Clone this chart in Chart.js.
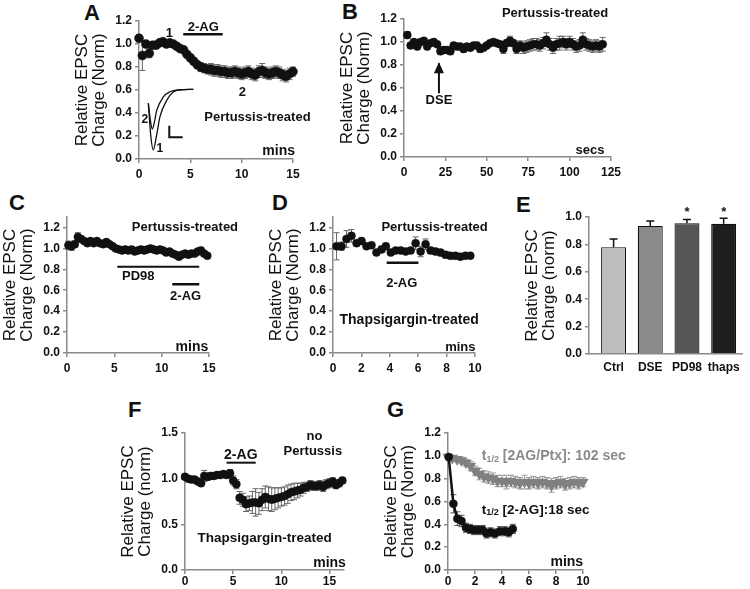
<!DOCTYPE html>
<html>
<head>
<meta charset="utf-8">
<script src="https://cdn.jsdelivr.net/npm/chart.js@4"></script>
<style>
    body { margin: 0; width: 750px; height: 589px; position: relative; overflow: hidden; background: #fff;
           font-family: 'Liberation Sans', Arial, Helvetica, sans-serif; }
    canvas { position: absolute; }
    .letter { position: absolute; font-weight: bold; font-size: 22px; line-height: 1; color: #111; }
</style>
</head>
<body>
<div class="letter" style="left:84px;top:2px">A</div>
<div class="letter" style="left:342px;top:1px">B</div>
<div class="letter" style="left:9px;top:192px">C</div>
<div class="letter" style="left:272px;top:192px">D</div>
<div class="letter" style="left:516px;top:194px">E</div>
<div class="letter" style="left:128px;top:399px">F</div>
<div class="letter" style="left:387px;top:399px">G</div>

<canvas id="chartA" width="246" height="174" style="left:73px;top:9px"></canvas>
<canvas id="chartB" width="287" height="178" style="left:338px;top:3px"></canvas>
<canvas id="chartC" width="238" height="172" style="left:1px;top:205px"></canvas>
<canvas id="chartD" width="222" height="172" style="left:267px;top:205px"></canvas>
<canvas id="chartE" width="225" height="173" style="left:523px;top:205px"></canvas>
<canvas id="chartF" width="239" height="173" style="left:119px;top:421px"></canvas>
<canvas id="chartG" width="251" height="173" style="left:382px;top:421px"></canvas>

<script>
// ---- data ----
var aTime = [0, 0.33, 0.67, 1, 1.33, 1.67, 2, 2.33, 2.67, 3, 3.33, 3.67, 4, 4.33, 4.67, 5, 5.33, 5.67, 6, 6.33, 6.67, 7, 7.33, 7.67,
    8, 8.33, 8.67, 9, 9.33, 9.67, 10, 10.33, 10.67, 11, 11.33, 11.67, 12, 12.33, 12.67, 13, 13.33, 13.67, 14, 14.33, 14.67, 15];
var aCharge = [1.05, 0.90, 1.00, 0.92, 0.99, 0.99, 1.01, 1.02, 1.00, 1.01, 1.00, 0.98, 0.96, 0.95, 0.91, 0.88, 0.85, 0.82, 0.80, 0.79,
    0.78, 0.78, 0.77, 0.77, 0.76, 0.76, 0.75, 0.75, 0.76, 0.75, 0.74, 0.75, 0.76, 0.74, 0.73, 0.76, 0.77, 0.75, 0.74, 0.75,
    0.76, 0.75, 0.73, 0.72, 0.74, 0.76];
var aSem = [0.03, 0.13, 0.03, 0.04, 0.03, 0.03, 0.02, 0.02, 0.02, 0.02, 0.02, 0.02, 0.02, 0.02, 0.02, 0.03, 0.03, 0.03, 0.04, 0.04,
    0.04, 0.05, 0.05, 0.05, 0.05, 0.05, 0.05, 0.05, 0.05, 0.05, 0.05, 0.05, 0.05, 0.05, 0.05, 0.05, 0.06, 0.05, 0.05, 0.05,
    0.05, 0.05, 0.05, 0.05, 0.05, 0.04];
// example EPSC traces drawn in the inset of panel A
var aTrace1Time = [0.91, 1.15, 1.39, 1.7, 2.05, 2.7, 3.3, 4.0, 5.29];
var aTrace1Amp = [0.485, 0.2, 0.078, 0.2, 0.37, 0.51, 0.58, 0.602, 0.606];
var aTrace2Time = [0.91, 1.1, 1.3, 1.5, 1.72, 2.37, 3.0, 4.0, 5.29];
var aTrace2Amp = [0.485, 0.34, 0.26, 0.32, 0.42, 0.54, 0.585, 0.602, 0.606];
var aScaleBarTime = [2.95, 2.95, 4.25];
var aScaleBarAmp = [0.29, 0.19, 0.19];

var bTime = [2, 4, 6, 8, 10, 12, 14, 16, 18, 20, 22, 24, 26, 28, 30, 32, 34, 36, 38, 40, 42, 44, 46, 48, 50, 52, 54, 56, 58, 60,
    62, 64, 66, 68, 70, 72, 74, 76, 78, 80, 82, 84, 86, 88, 90, 92, 94, 96, 98, 100, 102, 104, 106, 108, 110, 112, 114, 116, 118, 120];
var bCharge = [1.06, 0.97, 1.00, 0.96, 1.00, 1.01, 0.96, 0.99, 1.00, 0.98, 0.92, 0.93, 0.93, 0.92, 0.97, 0.96, 0.96, 0.94, 0.96, 0.95,
    0.97, 0.97, 0.94, 0.95, 0.97, 0.99, 1.00, 0.99, 0.98, 0.94, 0.99, 1.01, 0.99, 0.94, 0.97, 0.95, 0.96, 0.97, 0.98, 0.98,
    0.97, 0.99, 1.02, 0.98, 0.95, 0.98, 0.99, 1.00, 0.98, 1.00, 0.98, 0.96, 0.97, 1.02, 0.98, 0.97, 0.96, 0.97, 0.96, 0.98];
var bSem = [0.03, 0.02, 0.02, 0.02, 0.02, 0.02, 0.02, 0.02, 0.02, 0.02, 0.03, 0.03, 0.03, 0.03, 0.02, 0.02, 0.02, 0.03, 0.02, 0.02,
    0.02, 0.02, 0.03, 0.02, 0.02, 0.02, 0.02, 0.02, 0.02, 0.04, 0.03, 0.04, 0.03, 0.04, 0.04, 0.05, 0.05, 0.05, 0.05, 0.05,
    0.05, 0.05, 0.06, 0.05, 0.05, 0.05, 0.06, 0.05, 0.05, 0.05, 0.05, 0.05, 0.05, 0.06, 0.05, 0.05, 0.05, 0.05, 0.05, 0.06];

var cTime = [0.15, 0.48, 0.82, 1.15, 1.48, 1.82, 2.15, 2.48, 2.82, 3.15, 3.48, 3.82, 4.15, 4.48, 4.82, 5.15, 5.48, 5.82, 6.15, 6.48,
    6.82, 7.15, 7.48, 7.82, 8.15, 8.48, 8.82, 9.15, 9.48, 9.82, 10.15, 10.48, 10.82, 11.15, 11.48, 11.82, 12.15, 12.48, 12.82, 13.15,
    13.48, 13.82, 14.15, 14.48, 14.82];
var cCharge = [1.03, 1.02, 1.04, 1.11, 1.09, 1.07, 1.05, 1.07, 1.05, 1.07, 1.05, 1.04, 1.06, 1.04, 1.02, 1.00, 0.99, 0.98, 0.99, 0.98,
    0.99, 0.97, 0.98, 0.99, 0.98, 0.99, 1.00, 0.99, 0.98, 0.99, 0.98, 0.96, 0.97, 0.95, 0.94, 0.92, 0.94, 0.95, 0.94, 0.95,
    0.95, 0.97, 0.98, 0.95, 0.93];
var cSem = [0.04, 0.04, 0.03, 0.04, 0.03, 0.02, 0.02, 0.02, 0.02, 0.02, 0.02, 0.02, 0.02, 0.02, 0.02, 0.02, 0.02, 0.02, 0.02, 0.02,
    0.02, 0.02, 0.02, 0.02, 0.02, 0.02, 0.02, 0.02, 0.02, 0.02, 0.02, 0.02, 0.02, 0.02, 0.02, 0.02, 0.02, 0.02, 0.02, 0.02,
    0.02, 0.03, 0.03, 0.02, 0.02];

var dTime = [0.25, 0.6, 0.95, 1.3, 1.66, 2.01, 2.36, 2.71, 3.06, 3.42, 3.72, 4.07, 4.42, 4.77, 5.12, 5.47, 5.82, 6.17, 6.52, 6.87,
    7.22, 7.57, 7.92, 8.27, 8.62, 8.97, 9.32, 9.67];
var dCharge = [1.02, 1.02, 1.09, 1.12, 1.05, 1.07, 1.02, 1.03, 0.96, 0.99, 1.02, 0.96, 0.98, 0.98, 0.97, 0.98, 1.05, 0.97, 1.04, 0.98,
    0.97, 0.96, 0.94, 0.93, 0.93, 0.92, 0.93, 0.93];
var dSem = [0.13, 0.04, 0.08, 0.06, 0.03, 0.03, 0.02, 0.02, 0.02, 0.03, 0.03, 0.02, 0.02, 0.02, 0.02, 0.02, 0.06, 0.05, 0.05, 0.03,
    0.03, 0.03, 0.03, 0.03, 0.03, 0.02, 0.02, 0.02];

var eName = ['Ctrl', 'DSE', 'PD98', 'thaps'];
var eMean = [0.78, 0.935, 0.955, 0.95];
var eSem = [0.06, 0.035, 0.027, 0.04];
var eColors = ['#bdbdbd', '#8a8a8a', '#565656', '#1e1e1e'];

var fTime = [0, 0.33, 0.67, 1, 1.33, 1.67, 2, 2.33, 2.67, 3, 3.33, 3.67, 4, 4.33, 4.67, 5, 5.33, 5.67, 6, 6.33, 6.67, 7, 7.33, 7.67,
    8, 8.33, 8.67, 9, 9.33, 9.67, 10, 10.33, 10.67, 11, 11.33, 11.67, 12, 12.33, 12.67, 13, 13.33, 13.67, 14, 14.33, 14.67, 15,
    15.33, 15.67, 16, 16.33];
var fCharge = [1.02, 1.00, 0.99, 0.99, 0.97, 0.95, 1.03, 1.02, 1.03, 1.03, 1.04, 1.04, 1.05, 1.04, 1.06, 0.98, 0.94, 0.79, 0.77, 0.72,
    0.73, 0.74, 0.74, 0.73, 0.77, 0.80, 0.78, 0.77, 0.78, 0.79, 0.80, 0.81, 0.83, 0.85, 0.86, 0.87, 0.88, 0.90, 0.91, 0.93,
    0.92, 0.92, 0.93, 0.91, 0.94, 0.95, 0.97, 0.93, 0.95, 0.98];
var fSem = [0.03, 0.03, 0.02, 0.02, 0.02, 0.03, 0.06, 0.04, 0.03, 0.03, 0.03, 0.03, 0.03, 0.03, 0.04, 0.05, 0.05, 0.07, 0.07, 0.08,
    0.08, 0.12, 0.15, 0.12, 0.12, 0.12, 0.13, 0.13, 0.12, 0.11, 0.10, 0.10, 0.10, 0.09, 0.09, 0.08, 0.07, 0.06, 0.05, 0.05,
    0.05, 0.05, 0.05, 0.05, 0.05, 0.05, 0.04, 0.04, 0.04, 0.03];

var gAgTime = [0.05, 0.4, 0.69, 1.0, 1.33, 1.63, 1.93, 2.25, 2.57, 2.85, 3.15, 3.48, 3.85, 4.2, 4.5, 4.8];
var gAgCharge = [0.99, 0.58, 0.45, 0.43, 0.37, 0.36, 0.35, 0.35, 0.35, 0.32, 0.33, 0.32, 0.34, 0.34, 0.33, 0.36];
var gAgSem = [0.02, 0.08, 0.06, 0.05, 0.04, 0.04, 0.04, 0.04, 0.04, 0.04, 0.04, 0.04, 0.04, 0.04, 0.04, 0.04];
var gPtxTime = [0, 0.33, 0.67, 1, 1.33, 1.67, 2, 2.33, 2.67, 3, 3.33, 3.67, 4, 4.33, 4.67, 5, 5.33, 5.67, 6, 6.33, 6.67, 7,
    7.33, 7.67, 8, 8.33, 8.67, 9, 9.33, 9.67, 10];
var gPtxCharge = [0.99, 0.98, 0.97, 0.96, 0.94, 0.91, 0.87, 0.84, 0.82, 0.81, 0.80, 0.78, 0.78, 0.77, 0.78, 0.77, 0.76, 0.77, 0.76,
    0.77, 0.76, 0.77, 0.76, 0.74, 0.76, 0.77, 0.75, 0.76, 0.77, 0.76, 0.77];
var gPtxSem = [0.01, 0.02, 0.02, 0.03, 0.03, 0.04, 0.04, 0.05, 0.05, 0.05, 0.05, 0.05, 0.05, 0.06, 0.05, 0.05, 0.05, 0.06, 0.05,
    0.05, 0.05, 0.05, 0.05, 0.06, 0.05, 0.05, 0.05, 0.05, 0.05, 0.05, 0.04];

// ---- shared look ----
Chart.defaults.font.family = "'Liberation Sans', Arial, Helvetica, sans-serif";
Chart.defaults.color = '#111';
Chart.defaults.animation = false;

var axisGray = '#8a8a8a';
var tickFont = { size: 12, weight: 'bold' };
var FONT = "'Liberation Sans', Arial, sans-serif";

function pts(xs, ys) {
    return xs.map(function (x, i) { return { x: x, y: ys[i] }; });
}

// SEM bars, drawn under the markers
Chart.register({
    id: 'errorBars',
    beforeDatasetsDraw: function (chart) {
        var ctx = chart.ctx;
        chart.data.datasets.forEach(function (ds, i) {
            if (!ds.errors) return;
            var meta = chart.getDatasetMeta(i);
            var ys = chart.scales[meta.yAxisID];
            ctx.save();
            ctx.strokeStyle = ds.errorColor || '#666';
            ctx.lineWidth = ds.errorWidth || 1;
            var cap = ds.errorCap || 3;
            meta.data.forEach(function (el, j) {
                var e = ds.errors[j];
                if (e === undefined) return;
                var v = ds.data[j].y;
                var top = ys.getPixelForValue(v + e);
                var bot = ys.getPixelForValue(ds.errorUpOnly ? v : v - e);
                ctx.beginPath();
                ctx.moveTo(el.x, top); ctx.lineTo(el.x, bot);
                ctx.moveTo(el.x - cap, top); ctx.lineTo(el.x + cap, top);
                if (!ds.errorUpOnly) { ctx.moveTo(el.x - cap, bot); ctx.lineTo(el.x + cap, bot); }
                ctx.stroke();
            });
            ctx.restore();
        });
    }
});

// labels, drug bars and arrows placed in data units
function notes(texts, lines) {
    return {
        id: 'notes',
        afterDraw: function (chart) {
            var ctx = chart.ctx, xs = chart.scales.x, ys = chart.scales.y;
            ctx.save();
            (lines || []).forEach(function (l) {
                var x1 = xs.getPixelForValue(l.x1), y1 = ys.getPixelForValue(l.y1);
                var x2 = xs.getPixelForValue(l.x2), y2 = ys.getPixelForValue(l.y2);
                ctx.strokeStyle = '#111';
                ctx.fillStyle = '#111';
                ctx.lineWidth = l.w || 2;
                ctx.beginPath(); ctx.moveTo(x1, y1); ctx.lineTo(x2, y2); ctx.stroke();
                if (l.arrow) {
                    ctx.beginPath();
                    ctx.moveTo(x2, y2 - 1);
                    ctx.lineTo(x2 - 5, y2 + 10);
                    ctx.lineTo(x2 + 5, y2 + 10);
                    ctx.closePath(); ctx.fill();
                }
            });
            (texts || []).forEach(function (t) {
                var px = xs.getPixelForValue(t.x), py = ys.getPixelForValue(t.y);
                ctx.fillStyle = t.color || '#111';
                ctx.textBaseline = 'middle';
                if (t.parts) {
                    ctx.textAlign = 'left';
                    t.parts.forEach(function (p) {
                        ctx.font = 'bold ' + p.size + 'px ' + FONT;
                        ctx.fillText(p.text, px, py + (p.dy || 0));
                        px += ctx.measureText(p.text).width;
                    });
                } else {
                    ctx.textAlign = t.align || 'center';
                    ctx.font = (t.weight || 'bold') + ' ' + (t.size || 13) + 'px ' + FONT;
                    ctx.fillText(t.text, px, py);
                }
            });
            ctx.restore();
        }
    };
}

function xAxis(min, max, step, pad) {
    return {
        type: 'linear', min: min, max: max,
        border: { color: axisGray, width: 1.5 },
        grid: { drawOnChartArea: false, color: axisGray, lineWidth: 1.5, tickLength: 4 },
        ticks: { stepSize: step, includeBounds: false, padding: pad, font: tickFont, color: '#111', maxRotation: 0, autoSkip: false },
        afterFit: function (s) { s.height = 24; }
    };
}

function yAxis(min, max, step, title) {
    return {
        type: 'linear', min: min, max: max,
        border: { color: axisGray, width: 1.5 },
        grid: { drawOnChartArea: false, color: axisGray, lineWidth: 1.5, tickLength: 4 },
        ticks: {
            stepSize: step, includeBounds: false, padding: 3, font: tickFont, color: '#111',
            callback: function (v) { return v.toFixed(1); }
        },
        title: { display: true, text: title, color: '#111', padding: 0, font: { size: 17, lineHeight: 1.05 } },
        afterFit: function (s) { s.width = 66; }
    };
}

function options(x, y, padTop, padRight) {
    return {
        responsive: false,
        animation: false,
        layout: { padding: { top: padTop, right: padRight, left: 0, bottom: 0 } },
        scales: { x: x, y: y },
        plugins: { legend: { display: false }, tooltip: { enabled: false } }
    };
}

function dots(xs, ys, errs, r) {
    return {
        data: pts(xs, ys), errors: errs, errorColor: '#666',
        pointRadius: r, pointHoverRadius: r, pointBackgroundColor: '#111', pointBorderColor: '#111', pointBorderWidth: 0.5,
        showLine: false, clip: false
    };
}

function trace(xs, ys, width) {
    return {
        data: pts(xs, ys), showLine: true, pointRadius: 0, borderColor: '#111', borderWidth: width,
        cubicInterpolationMode: 'monotone', clip: false
    };
}

var normTitle = ['Relative EPSC', 'Charge (Norm)'];
var normTitleLower = ['Relative EPSC', 'Charge (norm)'];

// ---- A ----
new Chart(document.getElementById('chartA'), {
    type: 'scatter',
    data: {
        datasets: [
            dots(aTime, aCharge, aSem, 4.5),
            trace(aTrace1Time, aTrace1Amp, 1.3),
            trace(aTrace2Time, aTrace2Amp, 1.3),
            { data: pts(aScaleBarTime, aScaleBarAmp), showLine: true, pointRadius: 0, borderColor: '#111', borderWidth: 2, tension: 0 }
        ]
    },
    options: options(xAxis(0, 15, 5, 4), yAxis(0, 1.2, 0.2, normTitle), 12, 26),
    plugins: [notes([
        { x: 2.95, y: 1.093, text: '1' },
        { x: 6.26, y: 1.145, text: '2-AG' },
        { x: 10.06, y: 0.577, text: '2' },
        { x: 0.58, y: 0.34, text: '2', size: 12 },
        { x: 2.04, y: 0.093, text: '1', size: 12 },
        { x: 11.54, y: 0.363, text: 'Pertussis-treated' },
        { x: 13.6, y: 0.072, text: 'mins', size: 14 }
    ], [
        { x1: 4.31, y1: 1.084, x2: 8.15, y2: 1.084, w: 2.5 }
    ])]
});

// ---- B ----
new Chart(document.getElementById('chartB'), {
    type: 'scatter',
    data: { datasets: [dots(bTime, bCharge, bSem, 4)] },
    options: options(xAxis(0, 125, 25, 4), yAxis(0, 1.2, 0.2, normTitle), 16, 14),
    plugins: [notes([
        { x: 91.2, y: 1.25, text: 'Pertussis-treated' },
        { x: 21.1, y: 0.49, text: 'DSE' },
        { x: 112.3, y: 0.061, text: 'secs' }
    ], [
        { x1: 21.1, y1: 0.554, x2: 21.1, y2: 0.815, w: 2, arrow: true }
    ])]
});

// ---- C ----
new Chart(document.getElementById('chartC'), {
    type: 'scatter',
    data: { datasets: [dots(cTime, cCharge, cSem, 4)] },
    options: options(xAxis(0, 15, 5, 4), yAxis(0, 1.3, 0.2, normTitle), 12, 30),
    plugins: [notes([
        { x: 12.46, y: 1.2, text: 'Pertussis-treated' },
        { x: 7.53, y: 0.73, text: 'PD98' },
        { x: 12.53, y: 0.545, text: '2-AG' },
        { x: 13.2, y: 0.06, text: 'mins', size: 14 }
    ], [
        { x1: 5.31, y1: 0.825, x2: 13.97, y2: 0.825, w: 2 },
        { x1: 11.12, y1: 0.657, x2: 13.97, y2: 0.657, w: 2.5 }
    ])]
});

// ---- D ----
new Chart(document.getElementById('chartD'), {
    type: 'scatter',
    data: { datasets: [dots(dTime, dCharge, dSem, 4)] },
    options: options(xAxis(0, 10, 2, 4), yAxis(0, 1.3, 0.2, normTitle), 12, 14),
    plugins: [notes([
        { x: 7.15, y: 1.2, text: 'Pertussis-treated' },
        { x: 4.84, y: 0.666, text: '2-AG' },
        { x: 5.36, y: 0.315, text: 'Thapsigargin-treated', size: 14 },
        { x: 8.97, y: 0.05, text: 'mins' }
    ], [
        { x1: 3.78, y1: 0.863, x2: 6.01, y2: 0.863, w: 2.5 }
    ])]
});

// ---- E ----
new Chart(document.getElementById('chartE'), {
    type: 'bar',
    data: {
        datasets: [{
            data: pts(eName.map(function (n, i) { return i; }), eMean),
            errors: eSem, errorUpOnly: true, errorColor: '#111', errorWidth: 1.5, errorCap: 4,
            backgroundColor: eColors, borderColor: '#111', borderWidth: 1.2,
            categoryPercentage: 1, barPercentage: 0.68
        }]
    },
    options: options({
        type: 'linear', min: -0.67, max: 3.5, offset: false,
        border: { color: axisGray, width: 1.5 },
        grid: { display: true, drawOnChartArea: false, drawTicks: true, tickLength: 4, color: 'rgba(0,0,0,0)' },
        afterBuildTicks: function (s) { s.ticks = eName.map(function (n, i) { return { value: i }; }); },
        ticks: { padding: 2, font: tickFont, color: '#111', autoSkip: false, maxRotation: 0,
                 callback: function (v) { return eName[v]; } },
        afterFit: function (s) { s.height = 24; }
    }, yAxis(0, 1.0, 0.2, normTitleLower), 12, 6),
    plugins: [notes([
        { x: 2, y: 1.03, text: '*' },
        { x: 3, y: 1.03, text: '*' }
    ], [])]
});

// ---- F ----
new Chart(document.getElementById('chartF'), {
    type: 'scatter',
    data: { datasets: [dots(fTime, fCharge, fSem, 4)] },
    options: options(xAxis(0, 16.5, 5, 0), yAxis(0, 1.5, 0.5, normTitleLower), 12, 14),
    plugins: [notes([
        { x: 5.79, y: 1.26, text: '2-AG', size: 14 },
        { x: 13.44, y: 1.468, text: 'no' },
        { x: 13.27, y: 1.296, text: 'Pertussis' },
        { x: 8.27, y: 0.347, text: 'Thapsigargin-treated', size: 13.5 },
        { x: 15.0, y: 0.08, text: 'mins', size: 14 }
    ], [
        { x1: 4.31, y1: 1.175, x2: 7.34, y2: 1.175, w: 2 }
    ])]
});

// ---- G ----
var gAg = dots(gAgTime, gAgCharge, gAgSem, 4);
gAg.showLine = true;
gAg.borderColor = '#111';
gAg.borderWidth = 2.5;
gAg.errorColor = '#555';
var gPtx = {
    data: pts(gPtxTime, gPtxCharge), errors: gPtxSem, errorColor: '#9a9a9a',
    pointStyle: 'triangle', rotation: 180, pointRadius: 5, pointHoverRadius: 5,
    pointBackgroundColor: '#808080', pointBorderColor: '#808080',
    showLine: true, borderColor: '#9a9a9a', borderWidth: 1.5, clip: false
};
new Chart(document.getElementById('chartG'), {
    type: 'scatter',
    data: { datasets: [gAg, gPtx] },
    options: options(xAxis(0, 10, 2, 0), yAxis(0, 1.2, 0.2, normTitle), 12, 50),
    plugins: [notes([
        { x: 2.5, y: 0.994, color: '#8a8a8a', parts: [
            { text: 't', size: 14 }, { text: '1/2', size: 9, dy: 3 }, { text: ' [2AG/Ptx]: 102 sec', size: 14 }] },
        { x: 2.5, y: 0.526, color: '#111', parts: [
            { text: 't', size: 13.5 }, { text: '1/2', size: 9, dy: 3 }, { text: ' [2-AG]:18 sec', size: 13.5 }] },
        { x: 8.8, y: 0.073, text: 'mins', size: 14 }
    ], [])]
});
</script>
</body>
</html>
